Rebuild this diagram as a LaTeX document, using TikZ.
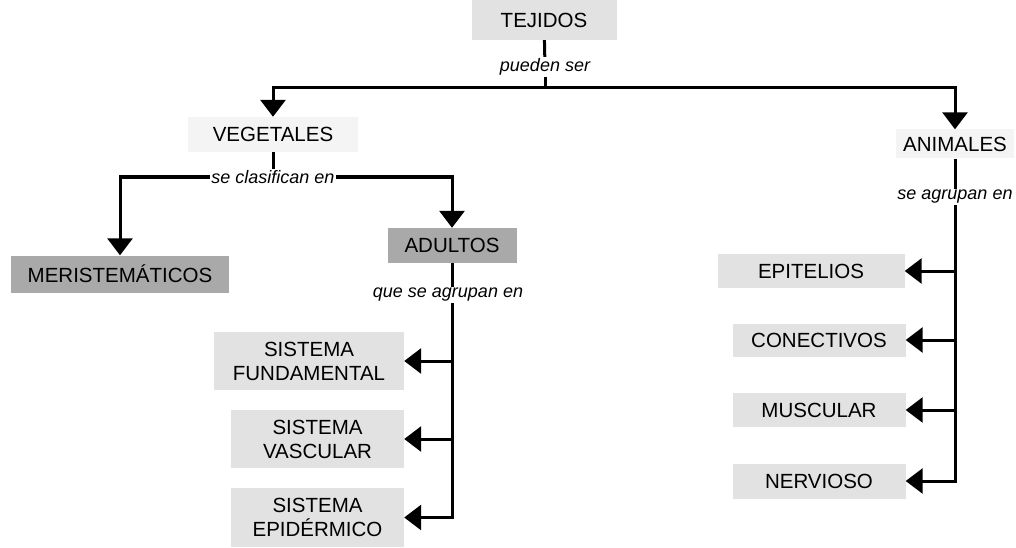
\documentclass[tikz,border=0pt]{standalone}
\usepackage{fontspec}
\setmainfont{Liberation Sans}
\usetikzlibrary{arrows.meta}
\definecolor{lightbox}{HTML}{E2E2E2}
\definecolor{palebox}{HTML}{F4F4F4}
\definecolor{darkbox}{HTML}{A9A9A9}
\begin{document}
\begin{tikzpicture}[x=1pt,y=-1pt,
  boxbase/.style={inner sep=0pt, align=center, font=\fontsize{20.5}{24}\selectfont},
  lightnode/.style={boxbase, fill=lightbox},
  palenode/.style={boxbase, fill=palebox},
  darknode/.style={boxbase, fill=darkbox},
  lbl/.style={fill=white, inner sep=1.5pt, font=\itshape\fontsize{18}{20}\selectfont},
  conn/.style={line width=3pt},
  arr/.style={conn, -{Triangle[width=25pt,length=17pt]}}]
\useasboundingbox (0,0) rectangle (1016,548);

% nodes
\node[lightnode, minimum width=145pt, minimum height=40pt] (tej) at (544,20) {TEJIDOS};
\node[palenode, minimum width=170pt, minimum height=35pt] (veg) at (273,134.5) {VEGETALES};
\node[palenode, minimum width=118pt, minimum height=29pt] (ani) at (955,144) {ANIMALES};
\node[darknode, minimum width=218pt, minimum height=37pt] (meri) at (120,274) {MERISTEMÁTICOS};
\node[darknode, minimum width=129pt, minimum height=35pt] (adu) at (452,245.5) {ADULTOS};
\node[lightnode, minimum width=190pt, minimum height=58pt] (sf) at (309,361) {SISTEMA\\FUNDAMENTAL};
\node[lightnode, minimum width=173pt, minimum height=58pt] (sv) at (317.5,439) {SISTEMA\\VASCULAR};
\node[lightnode, minimum width=173pt, minimum height=59pt] (se) at (317.5,517.5) {SISTEMA\\EPIDÉRMICO};
\node[lightnode, minimum width=187pt, minimum height=34pt] (epi) at (811,271) {EPITELIOS};
\node[lightnode, minimum width=173pt, minimum height=33pt] (con) at (819,340) {CONECTIVOS};
\node[lightnode, minimum width=173pt, minimum height=34pt] (mus) at (819,410) {MUSCULAR};
\node[lightnode, minimum width=173pt, minimum height=35pt] (ner) at (819,481) {NERVIOSO};

% labels
\node[lbl] (l1) at (545,67) {pueden ser};
\node[lbl] (l2) at (273,177) {se clasifican en};
\node[lbl] (l3) at (448,295) {que se agrupan en};
\node[lbl] (l4) at (955,197) {se agrupan en};

\coordinate (b1) at (545,88);

% connectors
\draw[conn] (tej) -- (l1);
\draw[conn] (l1) -- (b1);
\draw[arr] (b1) -| (veg.north);
\draw[arr] (b1) -| (ani.north);

\draw[conn] (veg) -- (l2);
\draw[arr] (l2.west) -| (meri.north);
\draw[arr] (l2.east) -| (adu.north);

\draw[conn] (adu.south) -- (adu.south |- l3.north);
\draw[arr] (adu.south |- l3.south) |- (se.east);
\draw[arr] (adu.south |- sf.east) -- (sf.east);
\draw[arr] (adu.south |- sv.east) -- (sv.east);

\draw[conn] (ani) -- (l4);
\draw[arr] (l4.south) |- (ner.east);
\draw[arr] (l4.south |- epi.east) -- (epi.east);
\draw[arr] (l4.south |- con.east) -- (con.east);
\draw[arr] (l4.south |- mus.east) -- (mus.east);
\end{tikzpicture}
\end{document}
